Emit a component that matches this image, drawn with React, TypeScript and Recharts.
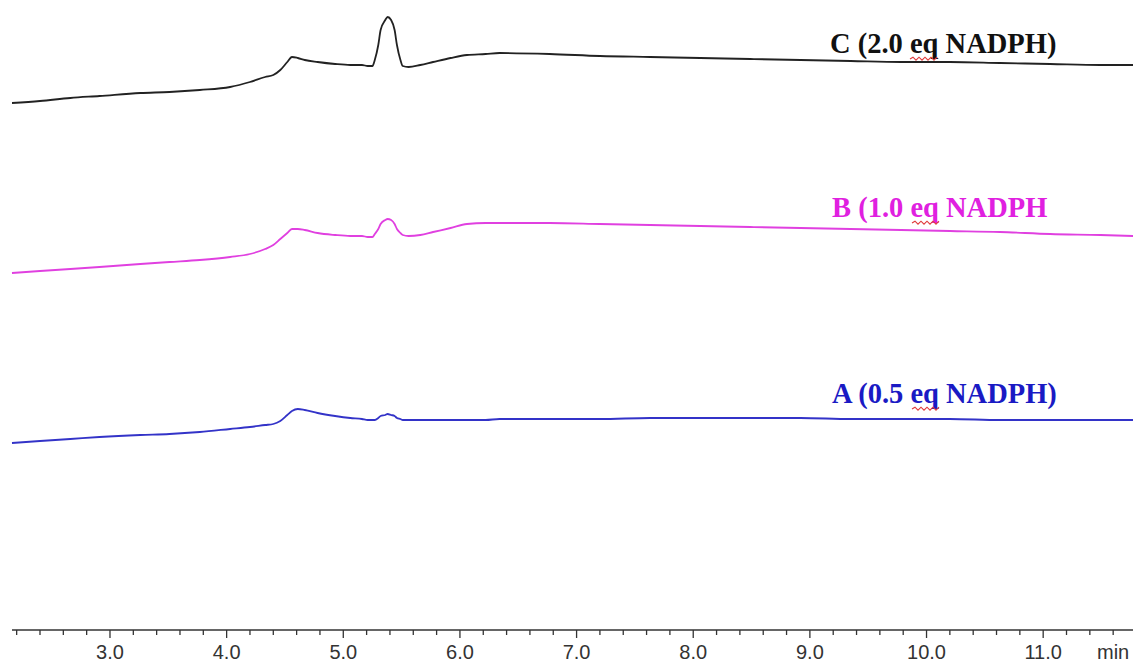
import { LineChart, Line, XAxis, YAxis } from "recharts";

// retention time (min), shared by the three traces
const times = [
  2.16, 2.4, 2.66, 2.91, 3.26, 3.51, 3.77, 4.03, 4.2, 4.33, 4.4, 4.46, 4.52,
  4.56, 4.61, 4.67, 4.78, 4.93, 5.06, 5.16, 5.21, 5.25, 5.27, 5.3, 5.32, 5.36,
  5.38, 5.41, 5.44, 5.46, 5.49, 5.51, 5.56, 5.66, 5.77, 5.92, 6.06, 6.22, 6.34,
  6.77, 7.2, 7.63, 8.06, 8.49, 8.92, 9.35, 9.78, 10.2, 10.63, 11.06, 11.49,
  11.77,
];

// C (2.0 eq NADPH)
const traceC = [
  527, 529, 532, 534, 537, 538, 540, 543, 548, 553, 555, 560, 568, 573, 572,
  570, 568, 566, 565, 565, 564, 564, 570, 585, 600, 610, 613, 610, 600, 585,
  570, 564, 563, 565, 568, 572, 575, 576, 577, 576, 574, 573, 572, 571, 570,
  569, 568, 568, 567, 566, 565, 565,
];

// B (1.0 eq NADPH)
const traceB = [
  357, 359, 361, 363, 366, 368, 370, 373, 376, 381, 385, 391, 397, 401, 401,
  400, 397, 395, 394, 394, 393, 393, 396, 401, 406, 410, 411, 410, 406, 401,
  397, 395, 394, 395, 398, 402, 406, 407, 407, 407, 406, 405, 404, 403, 402,
  401, 400, 399, 398, 396, 395, 394,
];

// A (0.5 eq NADPH)
const traceA = [
  187, 189, 191, 193, 195, 196, 198, 201, 203, 205, 206, 209, 215, 219, 221,
  220, 217, 214, 212, 211, 210, 210, 210, 212, 214, 215, 216, 215, 214, 212,
  211, 210, 210, 210, 210, 210, 210, 210, 211, 211, 211, 212, 212, 212, 212,
  211, 211, 211, 210, 210, 210, 210,
];

const majorTicks = [3, 4, 5, 6, 7, 8, 9, 10, 11];
const allTicks = Array.from({ length: 48 }, (_, i) => Math.round((2.2 + i * 0.2) * 10) / 10);

const labels = [
  { text: "C (2.0 eq NADPH)", color: "#111111", x: 830, y: 53 },
  { text: "B (1.0 eq NADPH", color: "#e020e0", x: 832, y: 217 },
  { text: "A (0.5 eq NADPH)", color: "#1a1ac4", x: 832, y: 403 },
];

const data = times.map((t, i) => ({ t, a: traceA[i], b: traceB[i], c: traceC[i] }));

// spell-check squiggle under "eq"
const wavy = (x0: number, x1: number, y: number) => {
  let d = `M${x0},${y}`;
  let up = true;
  for (let x = x0 + 3; x <= x1; x += 3) {
    d += ` L${x},${up ? y - 1.8 : y + 1.2}`;
    up = !up;
  }
  return d;
};

const TimeTick = (props: any) => {
  const { x, y, payload } = props;
  const major = majorTicks.some((m) => Math.abs(m - payload.value) < 0.01);
  return (
    <g>
      <line x1={x} y1={y} x2={x} y2={y + (major ? 8 : 5)} stroke="#333" strokeWidth={1.3} />
      {major && (
        <text
          x={x}
          y={y + 29}
          textAnchor="middle"
          fontSize={20}
          fontFamily="'Liberation Sans', Arial, sans-serif"
          fill="#333"
        >
          {payload.value.toFixed(1)}
        </text>
      )}
    </g>
  );
};

export default function App() {
  return (
    <div style={{ position: "absolute", left: 0, top: 0, width: 1133, height: 663, background: "#fff" }}>
      <LineChart width={1133} height={663} data={data} margin={{ top: 0, right: 0, bottom: 0, left: 12 }}>
        <XAxis
          dataKey="t"
          type="number"
          domain={[2.16, 11.77]}
          ticks={allTicks}
          interval={0}
          tick={<TimeTick />}
          tickLine={false}
          tickSize={0}
          tickMargin={0}
          height={33}
          axisLine={{ stroke: "#333", strokeWidth: 1.6 }}
        />
        <YAxis hide domain={[0, 630]} />
        <Line dataKey="c" type="monotone" stroke="#222222" strokeWidth={1.8} dot={false} isAnimationActive={false} />
        <Line dataKey="b" type="monotone" stroke="#e040e0" strokeWidth={1.8} dot={false} isAnimationActive={false} />
        <Line dataKey="a" type="monotone" stroke="#3333c8" strokeWidth={1.8} dot={false} isAnimationActive={false} />
      </LineChart>
      <svg
        width={1133}
        height={663}
        style={{ position: "absolute", left: 0, top: 0, pointerEvents: "none" }}
      >
        {labels.map((l) => (
          <g key={l.text}>
            <text
              x={l.x}
              y={l.y}
              fill={l.color}
              fontSize={28.5}
              fontWeight="bold"
              fontFamily="'Liberation Serif', 'Times New Roman', serif"
            >
              {l.text}
            </text>
            <path d={wavy(l.x + 80, l.x + 107, l.y + 6)} stroke="#e03a3a" strokeWidth={1.1} fill="none" />
          </g>
        ))}
        <text
          x={1097}
          y={659}
          fontSize={20}
          fontFamily="'Liberation Sans', Arial, sans-serif"
          fill="#333"
        >
          min
        </text>
      </svg>
    </div>
  );
}
